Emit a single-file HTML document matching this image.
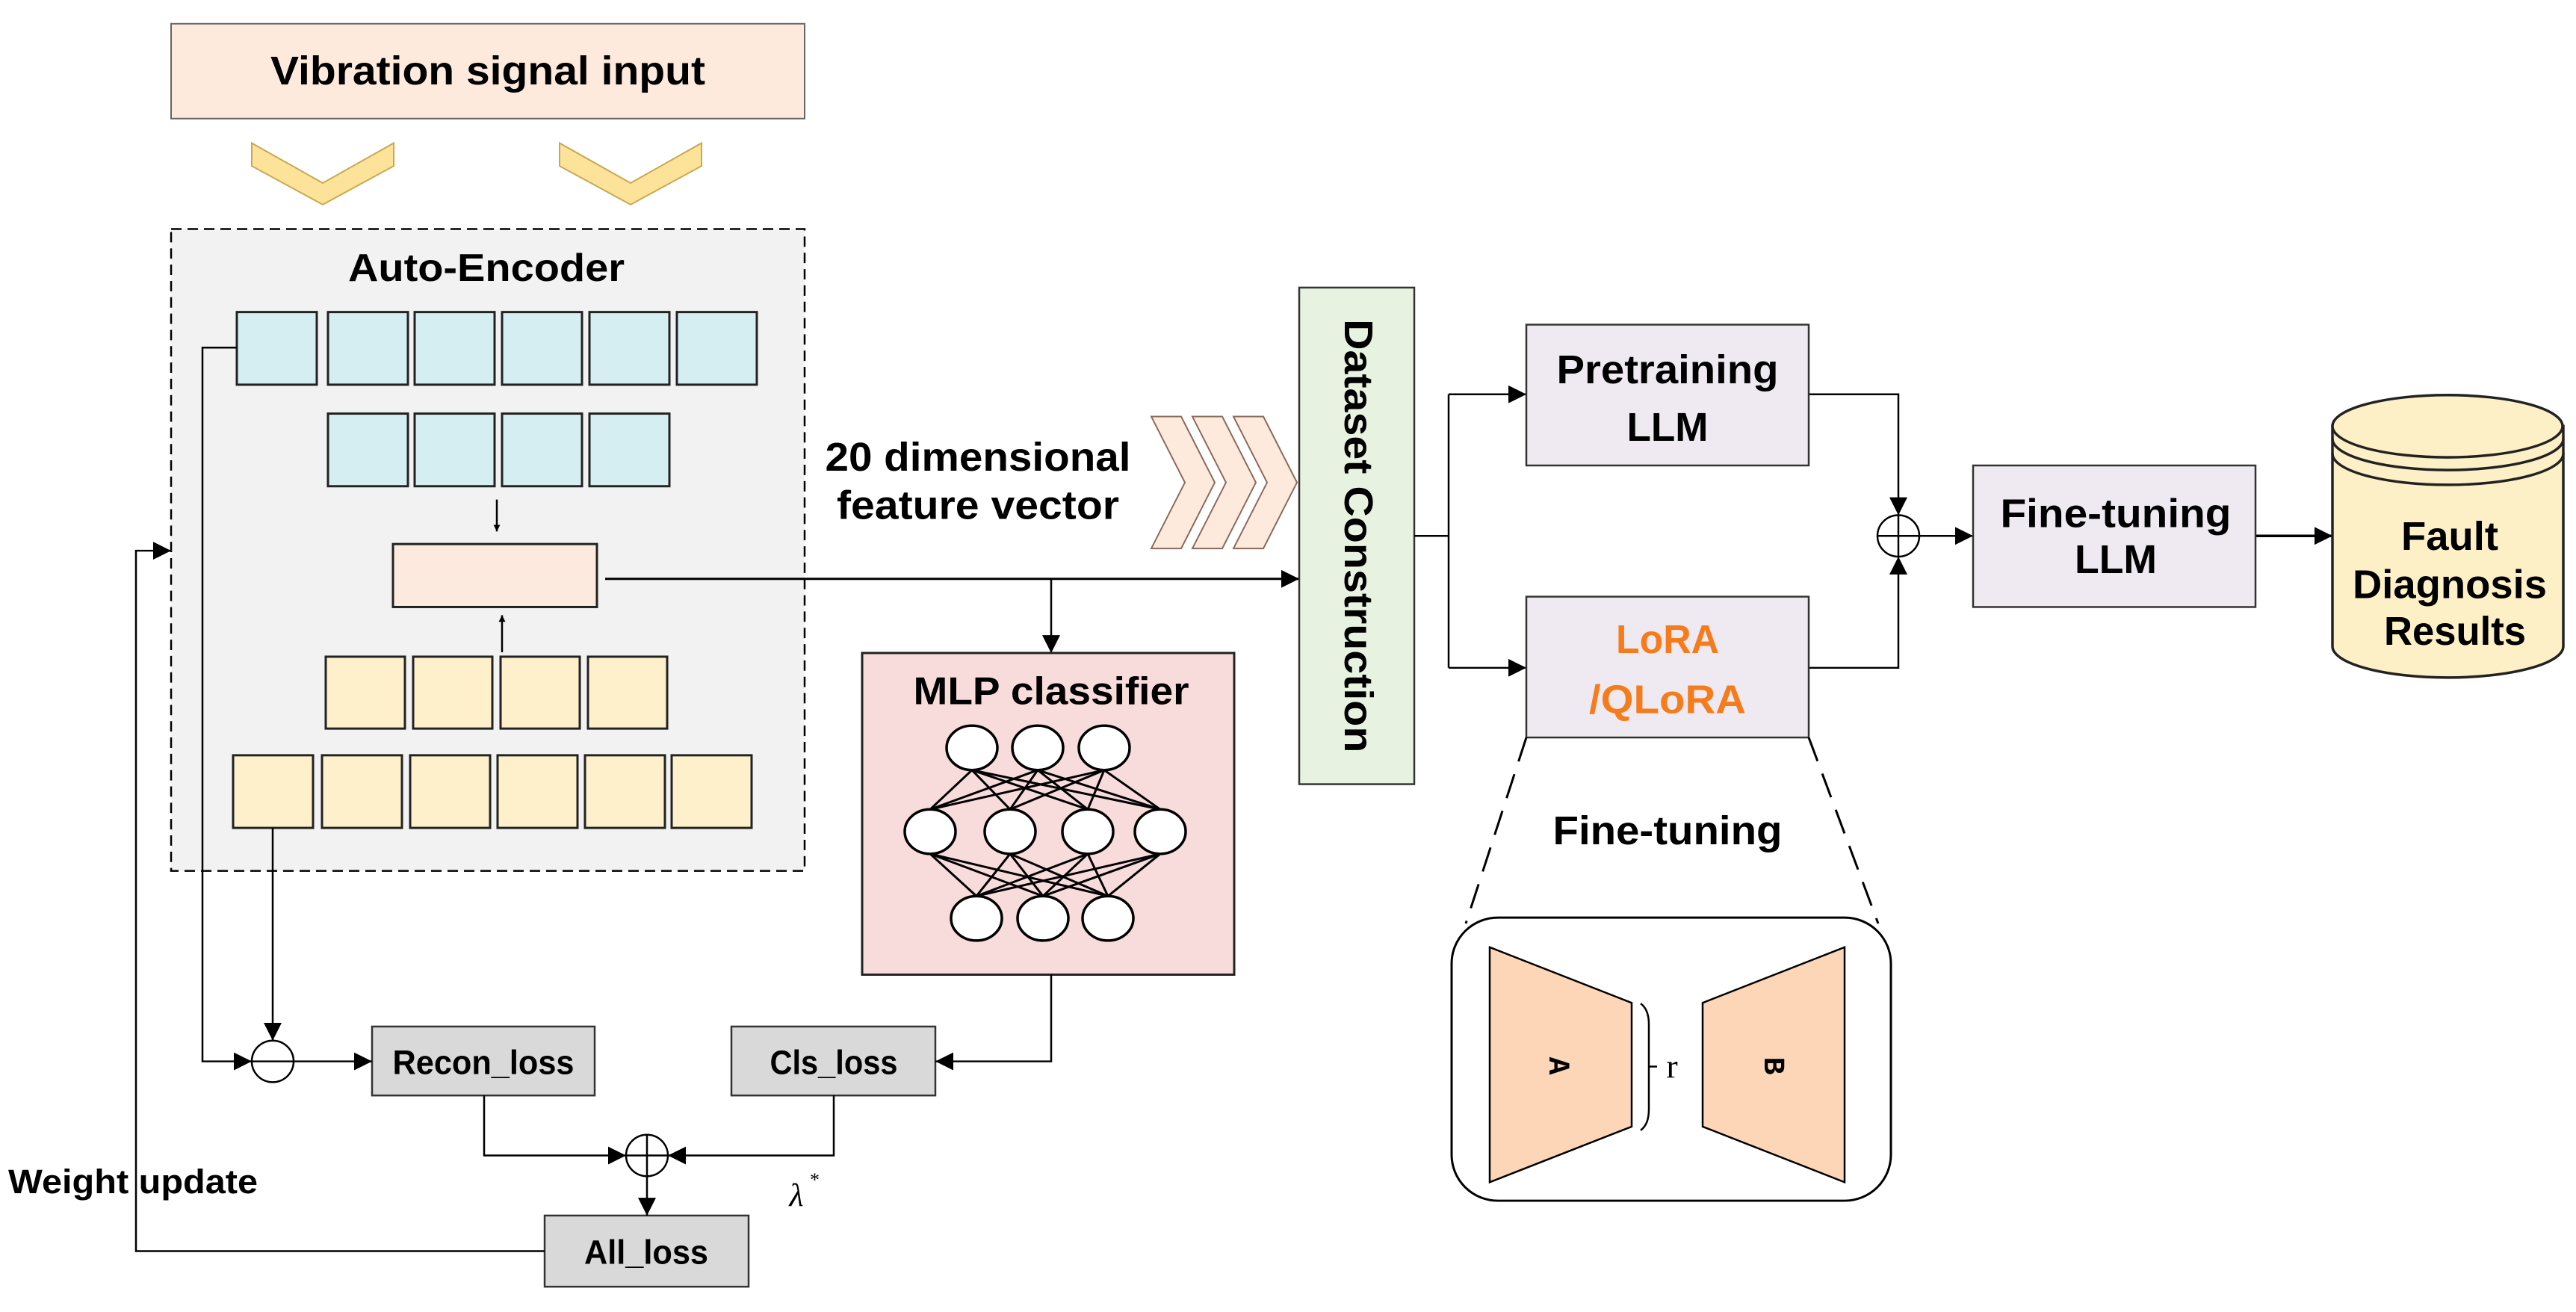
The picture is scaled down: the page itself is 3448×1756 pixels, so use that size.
<!DOCTYPE html>
<html><head><meta charset="utf-8"><style>
html,body{margin:0;padding:0;background:#fff;}
svg{display:block;}
text{font-family:"Liberation Sans",sans-serif;font-weight:bold;fill:#000;}
</style></head><body>
<svg width="3448" height="1756" viewBox="0 0 3448 1756" xmlns="http://www.w3.org/2000/svg">
<defs>
<marker id="ah" viewBox="0 0 10 10" refX="10" refY="5" markerWidth="9" markerHeight="9" markerUnits="userSpaceOnUse" orient="auto"><path d="M0,0 L10,5 L0,10 z" fill="#000"/></marker>
<marker id="ahb" viewBox="0 0 10 10" refX="10" refY="5" markerWidth="24" markerHeight="24" markerUnits="userSpaceOnUse" orient="auto"><path d="M0,0 L10,5 L0,10 z" fill="#000"/></marker>
</defs>
<g transform="translate(0,2) scale(1,0.992)">

<!-- Vibration input -->
<rect x="229" y="30" width="848" height="128" fill="#fdeadc" stroke="#666" stroke-width="2"/>
<text x="653" y="112" font-size="54" text-anchor="middle" textLength="582" lengthAdjust="spacingAndGlyphs">Vibration signal input</text>

<!-- down chevrons -->
<polygon points="337,191 432,245 527,191 527,222 432,274 337,222" fill="#fde29a" stroke="#c8a850" stroke-width="2"/>
<polygon points="749,191 844,245 939,191 939,222 844,274 749,222" fill="#fde29a" stroke="#c8a850" stroke-width="2"/>

<!-- Auto encoder -->
<rect x="229" y="307" width="848" height="866" fill="#f2f2f2" stroke="#000" stroke-width="2.5" stroke-dasharray="14,8"/>
<text x="651" y="377" font-size="52" text-anchor="middle" textLength="370" lengthAdjust="spacingAndGlyphs">Auto-Encoder</text>

<g fill="#d5eef2" stroke="#222" stroke-width="3">
<rect x="317" y="419" width="107" height="98"/>
<rect x="439" y="419" width="107" height="98"/>
<rect x="555" y="419" width="107" height="98"/>
<rect x="672" y="419" width="107" height="98"/>
<rect x="789" y="419" width="107" height="98"/>
<rect x="906" y="419" width="107" height="98"/>
<rect x="439" y="556" width="107" height="98"/>
<rect x="555" y="556" width="107" height="98"/>
<rect x="672" y="556" width="107" height="98"/>
<rect x="789" y="556" width="107" height="98"/>
</g>
<rect x="526" y="732" width="273" height="85" fill="#fdeadf" stroke="#222" stroke-width="3"/>
<g fill="#fef0cb" stroke="#222" stroke-width="3">
<rect x="436" y="884" width="106" height="97"/>
<rect x="553" y="884" width="106" height="97"/>
<rect x="670" y="884" width="106" height="97"/>
<rect x="787" y="884" width="106" height="97"/>
<rect x="312" y="1017" width="107" height="98"/>
<rect x="431" y="1017" width="107" height="98"/>
<rect x="549" y="1017" width="107" height="98"/>
<rect x="666" y="1017" width="107" height="98"/>
<rect x="783" y="1017" width="107" height="98"/>
<rect x="899" y="1017" width="107" height="98"/>
</g>
<line x1="665" y1="672" x2="665" y2="715" stroke="#000" stroke-width="2.5" marker-end="url(#ah)"/>
<line x1="672" y1="878" x2="672" y2="828" stroke="#000" stroke-width="2.5" marker-end="url(#ah)"/>

<!-- main line -->
<line x1="810" y1="779" x2="1739" y2="779" stroke="#000" stroke-width="3" marker-end="url(#ahb)"/>
<line x1="1407" y1="779" x2="1407" y2="879" stroke="#000" stroke-width="2.5" marker-end="url(#ahb)"/>

<!-- 20 dim text -->
<text x="1309" y="633" font-size="54" text-anchor="middle" textLength="409" lengthAdjust="spacingAndGlyphs">20 dimensional</text>
<text x="1309" y="698" font-size="54" text-anchor="middle" textLength="378" lengthAdjust="spacingAndGlyphs">feature vector</text>
<g fill="#fdeadc" stroke="#8a6a5a" stroke-width="2">
<polygon points="1541,560 1581,560 1626,649 1581,738 1541,738 1586,649"/>
<polygon points="1596,560 1636,560 1681,649 1636,738 1596,738 1641,649"/>
<polygon points="1651,560 1691,560 1736,649 1691,738 1651,738 1696,649"/>
</g>

<!-- MLP -->
<rect x="1154" y="879" width="498" height="434" fill="#f8dcdb" stroke="#222" stroke-width="3"/>
<text x="1407" y="948" font-size="52" text-anchor="middle" textLength="369" lengthAdjust="spacingAndGlyphs">MLP classifier</text>
<g stroke="#000" stroke-width="3">
<line x1="1301" y1="1037" x2="1245" y2="1090"/><line x1="1301" y1="1037" x2="1352" y2="1090"/><line x1="1301" y1="1037" x2="1456" y2="1090"/><line x1="1301" y1="1037" x2="1553" y2="1090"/>
<line x1="1389" y1="1037" x2="1245" y2="1090"/><line x1="1389" y1="1037" x2="1352" y2="1090"/><line x1="1389" y1="1037" x2="1456" y2="1090"/><line x1="1389" y1="1037" x2="1553" y2="1090"/>
<line x1="1478" y1="1037" x2="1245" y2="1090"/><line x1="1478" y1="1037" x2="1352" y2="1090"/><line x1="1478" y1="1037" x2="1456" y2="1090"/><line x1="1478" y1="1037" x2="1553" y2="1090"/>
<line x1="1245" y1="1150" x2="1307" y2="1207"/><line x1="1245" y1="1150" x2="1396" y2="1207"/><line x1="1245" y1="1150" x2="1483" y2="1207"/>
<line x1="1352" y1="1150" x2="1307" y2="1207"/><line x1="1352" y1="1150" x2="1396" y2="1207"/><line x1="1352" y1="1150" x2="1483" y2="1207"/>
<line x1="1456" y1="1150" x2="1307" y2="1207"/><line x1="1456" y1="1150" x2="1396" y2="1207"/><line x1="1456" y1="1150" x2="1483" y2="1207"/>
<line x1="1553" y1="1150" x2="1307" y2="1207"/><line x1="1553" y1="1150" x2="1396" y2="1207"/><line x1="1553" y1="1150" x2="1483" y2="1207"/>
</g>
<g fill="#fff" stroke="#000" stroke-width="3.5">
<ellipse cx="1301" cy="1007" rx="34" ry="30"/><ellipse cx="1389" cy="1007" rx="34" ry="30"/><ellipse cx="1478" cy="1007" rx="34" ry="30"/>
<ellipse cx="1245" cy="1120" rx="34" ry="30"/><ellipse cx="1352" cy="1120" rx="34" ry="30"/><ellipse cx="1456" cy="1120" rx="34" ry="30"/><ellipse cx="1553" cy="1120" rx="34" ry="30"/>
<ellipse cx="1307" cy="1237" rx="34" ry="30"/><ellipse cx="1396" cy="1237" rx="34" ry="30"/><ellipse cx="1483" cy="1237" rx="34" ry="30"/>
</g>

<!-- losses -->
<rect x="498" y="1383" width="298" height="93" fill="#d9d9d9" stroke="#333" stroke-width="2.5"/>
<text x="647" y="1447" font-size="46" text-anchor="middle" textLength="243" lengthAdjust="spacingAndGlyphs">Recon_loss</text>
<rect x="979" y="1383" width="273" height="93" fill="#d9d9d9" stroke="#333" stroke-width="2.5"/>
<text x="1116" y="1447" font-size="46" text-anchor="middle" textLength="171" lengthAdjust="spacingAndGlyphs">Cls_loss</text>
<rect x="729" y="1638" width="273" height="96" fill="#d9d9d9" stroke="#333" stroke-width="2.5"/>
<text x="865" y="1703" font-size="46" text-anchor="middle" textLength="166" lengthAdjust="spacingAndGlyphs">All_loss</text>

<g fill="none" stroke="#000" stroke-width="2.5">
<polyline points="1407,1313 1407,1430 1252,1430" marker-end="url(#ahb)"/>
<polyline points="317,467 271,467 271,1430 337,1430" marker-end="url(#ahb)"/>
<line x1="365" y1="1115" x2="365" y2="1402" marker-end="url(#ahb)"/>
<line x1="393" y1="1430" x2="498" y2="1430" marker-end="url(#ahb)"/>
<polyline points="648,1476 648,1557 838,1557" marker-end="url(#ahb)"/>
<polyline points="1116,1476 1116,1557 894,1557" marker-end="url(#ahb)"/>
<line x1="866" y1="1585" x2="866" y2="1638" marker-end="url(#ahb)"/>
<polyline points="729,1686 182,1686 182,741 229,741" marker-end="url(#ahb)"/>
<circle cx="365" cy="1430" r="28" fill="#fff"/>
<line x1="337" y1="1430" x2="393" y2="1430"/>
<circle cx="866" cy="1557" r="28" fill="#fff"/>
<line x1="838" y1="1557" x2="894" y2="1557"/>
<line x1="866" y1="1529" x2="866" y2="1585"/>
</g>
<text x="1066" y="1625" font-size="44" font-style="italic" style="font-family:'Liberation Serif',serif;font-weight:normal" text-anchor="middle">λ</text>
<text x="1084" y="1598" font-size="26" style="font-family:'Liberation Serif',serif;font-weight:normal">*</text>
<text x="11" y="1608" font-size="46" textLength="334" lengthAdjust="spacingAndGlyphs">Weight update</text>

<!-- Dataset construction -->
<rect x="1739" y="386" width="154" height="670" fill="#e8f2e0" stroke="#333" stroke-width="2.5"/>
<text transform="translate(1800,721) rotate(90)" font-size="54" text-anchor="middle" textLength="585" lengthAdjust="spacingAndGlyphs">Dataset  Construction</text>

<g fill="none" stroke="#000" stroke-width="2.5">
<polyline points="1893,721 1939,721"/>
<polyline points="1939,530 1939,899"/>
<line x1="1939" y1="530" x2="2043" y2="530" marker-end="url(#ahb)"/>
<line x1="1939" y1="899" x2="2043" y2="899" marker-end="url(#ahb)"/>
<polyline points="2421,530 2541,530 2541,693" marker-end="url(#ahb)"/>
<polyline points="2421,899 2541,899 2541,749" marker-end="url(#ahb)"/>
<line x1="2569" y1="721" x2="2641" y2="721" marker-end="url(#ahb)"/>
<line x1="3019" y1="721" x2="3122" y2="721" stroke-width="3.5" marker-end="url(#ahb)"/>
<circle cx="2541" cy="721" r="28" fill="#fff"/>
<line x1="2513" y1="721" x2="2569" y2="721"/>
<line x1="2541" y1="693" x2="2541" y2="749"/>
</g>

<rect x="2043" y="436" width="378" height="190" fill="#efeaf2" stroke="#333" stroke-width="2.5"/>
<text x="2232" y="515" font-size="54" text-anchor="middle" textLength="297" lengthAdjust="spacingAndGlyphs">Pretraining</text>
<text x="2232" y="593" font-size="54" text-anchor="middle" textLength="109" lengthAdjust="spacingAndGlyphs">LLM</text>

<rect x="2043" y="803" width="378" height="190" fill="#efeaf2" stroke="#333" stroke-width="2.5"/>
<text x="2232" y="879" font-size="54" text-anchor="middle" textLength="138" lengthAdjust="spacingAndGlyphs" style="fill:#f47c1c">LoRA</text>
<text x="2232" y="960" font-size="54" text-anchor="middle" textLength="210" lengthAdjust="spacingAndGlyphs" style="fill:#f47c1c">/QLoRA</text>

<rect x="2641" y="626" width="378" height="191" fill="#efeaf2" stroke="#333" stroke-width="2.5"/>
<text x="2832" y="709" font-size="54" text-anchor="middle" textLength="309" lengthAdjust="spacingAndGlyphs">Fine-tuning</text>
<text x="2832" y="771" font-size="54" text-anchor="middle" textLength="110" lengthAdjust="spacingAndGlyphs">LLM</text>

<!-- cylinder -->
<g stroke="#222" stroke-width="3.5" fill="#fdf0c7">
<path d="M3122,573 L3122,870 A154,42 0 0 0 3431,870 L3431,573 Z"/>
<ellipse cx="3276" cy="573" rx="154" ry="42"/>
<path d="M3122,590 A154,42 0 0 0 3431,590" fill="none"/>
<path d="M3122,610 A154,42 0 0 0 3431,610" fill="none"/>
</g>
<text x="3279" y="740" font-size="54" text-anchor="middle" textLength="130" lengthAdjust="spacingAndGlyphs">Fault</text>
<text x="3279" y="805" font-size="54" text-anchor="middle" textLength="260" lengthAdjust="spacingAndGlyphs">Diagnosis</text>
<text x="3286" y="868" font-size="54" text-anchor="middle" textLength="190" lengthAdjust="spacingAndGlyphs">Results</text>

<!-- fine tuning zoom -->
<g stroke="#000" stroke-width="3" stroke-dasharray="34,18" fill="none">
<line x1="2043" y1="993" x2="1962" y2="1244"/>
<line x1="2421" y1="993" x2="2514" y2="1244"/>
</g>
<text x="2232" y="1137" font-size="54" text-anchor="middle" textLength="307" lengthAdjust="spacingAndGlyphs">Fine-tuning</text>
<rect x="1943" y="1236" width="588" height="382" rx="62" ry="62" fill="#fff" stroke="#000" stroke-width="3"/>
<polygon points="1994,1276 2184,1351 2184,1518 1994,1593" fill="#fdd6b8" stroke="#000" stroke-width="2.5"/>
<polygon points="2469,1276 2279,1351 2279,1518 2469,1593" fill="#fdd6b8" stroke="#000" stroke-width="2.5"/>
<path d="M2196,1352 Q2207,1360 2207,1380 L2207,1495 Q2207,1515 2196,1523 M2207,1437 L2218,1437" fill="none" stroke="#000" stroke-width="2.5"/>
<text x="2238" y="1452" font-size="46" text-anchor="middle" style="font-family:'Liberation Serif',serif;font-weight:normal">r</text>
<text transform="translate(2074,1436) rotate(90)" font-size="40" text-anchor="middle" style="font-family:'Liberation Mono',monospace">A</text>
<text transform="translate(2362,1436) rotate(90)" font-size="40" text-anchor="middle" style="font-family:'Liberation Mono',monospace">B</text>
</g>
</svg>
</body></html>
